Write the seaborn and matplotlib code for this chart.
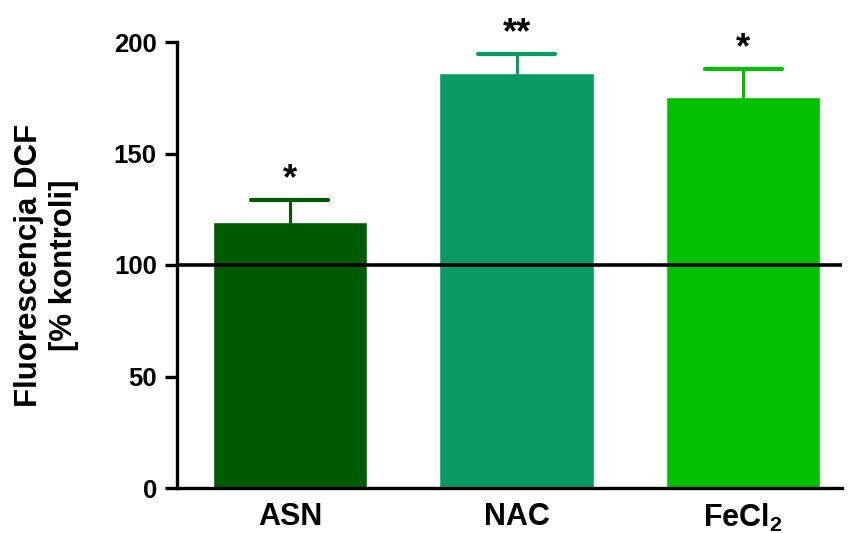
import numpy as np
import pandas as pd
import matplotlib
matplotlib.use('Agg')
import matplotlib.pyplot as plt
import seaborn as sns

# values
groups = ['ASN', 'NAC', 'FeCl$_2$']
means = [119.5, 186.0, 175.3]
sem = [9.6, 8.6, 12.6]
stars = ['*', '**', '*']
bar_colors = ['#005a00', '#0a9a64', '#00c000']
control = 100

sns.set_theme(style='white')
plt.rcParams['font.family'] = ['Liberation Sans', 'DejaVu Sans']
plt.rcParams['font.weight'] = 'bold'
plt.rcParams['mathtext.fontset'] = 'custom'
plt.rcParams['mathtext.rm'] = 'Liberation Sans:bold'
plt.rcParams['mathtext.default'] = 'regular'

df = pd.DataFrame({'group': groups, 'value': means})

fig = plt.figure(figsize=(8.48, 5.33), dpi=100)
ax = fig.add_axes([177 / 848, 1 - 488 / 533, (842 - 177) / 848, (488 - 42) / 533])

sns.barplot(data=df, x='group', y='value', hue='group', palette=bar_colors,
            width=0.68, errorbar=None, legend=False, ax=ax, saturation=1)

# upper error bars only, with a single cap
cap = 0.17
for i, (m, e, c) in enumerate(zip(means, sem, bar_colors)):
    ax.plot([i, i], [m, m + e], color=c, lw=2.2, zorder=3)
    ax.plot([i - cap, i + cap], [m + e, m + e], color=c, lw=3,
            solid_capstyle='round', zorder=3)
    ax.text(i, m + e + 5, stars[i], ha='center', va='baseline',
            fontsize=26, fontweight='bold', color='black', clip_on=False)

ax.axhline(control, color='black', lw=2.6, zorder=4, solid_capstyle='round')

ax.set_xlim(-0.498, 2.436)
ax.set_ylim(0, 200)
ax.set_yticks([0, 50, 100, 150, 200])
ax.set_xlabel('')
ax.set_ylabel('Fluorescencja DCF\n[% kontroli]', fontsize=22.5, fontweight='bold',
              color='black', linespacing=1.2)
ax.yaxis.set_label_coords(-0.148, 0.5)

sns.despine(ax=ax, top=True, right=True)
for s in ['left', 'bottom']:
    ax.spines[s].set_linewidth(2.4)
    ax.spines[s].set_color('black')
ax.tick_params(axis='y', which='major', left=True, length=8.5, width=2.4,
               labelsize=18.5, pad=6, colors='black')
ax.tick_params(axis='x', which='major', bottom=False, labelsize=22, pad=4,
               colors='black')
for lab in ax.get_xticklabels() + ax.get_yticklabels():
    lab.set_fontweight('bold')

fig.savefig('out.png', dpi=100)
